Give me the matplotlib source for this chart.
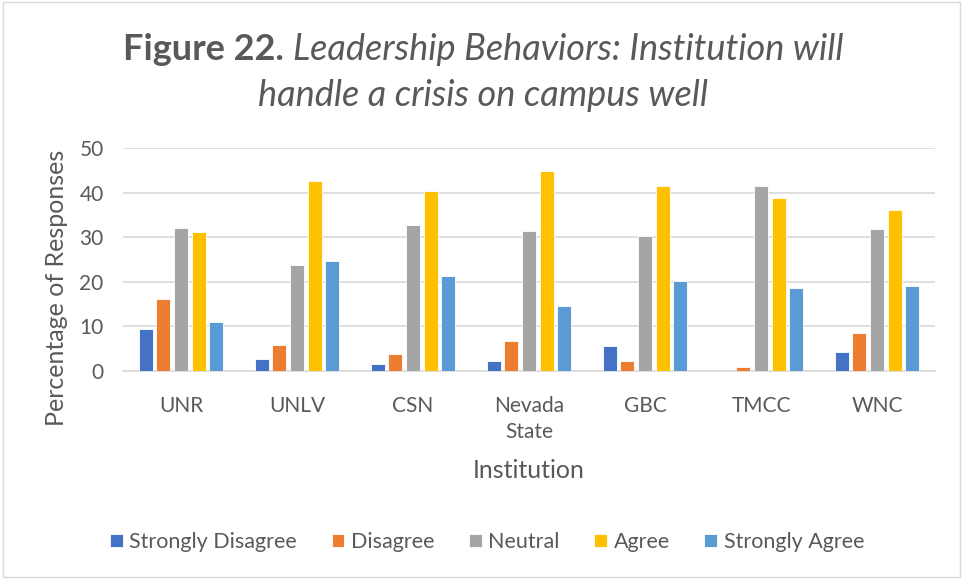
import matplotlib
matplotlib.use('Agg')
import matplotlib.pyplot as plt
import numpy as np
from matplotlib.patches import Rectangle

institutions = ['UNR', 'UNLV', 'CSN', 'Nevada\nState', 'GBC', 'TMCC', 'WNC']
series = ['Strongly Disagree', 'Disagree', 'Neutral', 'Agree', 'Strongly Agree']
strongly_disagree = [9.3, 2.6, 1.4, 2.2, 5.5, 0.0, 4.2]
disagree = [16.2, 5.8, 3.7, 6.6, 2.2, 0.8, 8.4]
neutral = [32.0, 23.8, 32.8, 31.5, 30.2, 41.5, 31.8]
agree = [31.2, 42.7, 40.4, 44.8, 41.5, 38.8, 36.1]
strongly_agree = [11.0, 24.7, 21.3, 14.5, 20.1, 18.6, 19.0]
colors = ['#4472C4', '#ED7D31', '#A5A5A5', '#FFC000', '#5B9BD5']

txt = '#595959'
plt.rcParams['font.family'] = ['Lato', 'DejaVu Sans']

W, H = 963, 579
fig = plt.figure(figsize=(W / 100, H / 100), dpi=100)
ax = fig.add_axes([123 / W, 1 - 370.7 / H, 812 / W, 222.4 / H])

x = np.arange(len(institutions))
bw = 0.12
step = 0.152
data = [strongly_disagree, disagree, neutral, agree, strongly_agree]
for i, (vals, c, name) in enumerate(zip(data, colors, series)):
  ax.bar(x + (i - 2) * step, vals, bw, color=c, label=name, zorder=3,
         edgecolor='white', linewidth=0.6)

ax.set_xlim(-0.5, 6.5)
ax.set_ylim(0, 50)
ax.set_yticks(range(0, 51, 10))
ax.set_xticks(x)
ax.set_xticklabels(institutions, fontsize=15, color=txt, linespacing=1.4, va='top')
ax.tick_params(axis='y', labelsize=15, labelcolor=txt, length=0, pad=14)
ax.tick_params(axis='x', length=0, pad=18)
ax.grid(axis='y', color='#D9D9D9', linewidth=1.2, zorder=0)
for s in ['top', 'right', 'left']:
  ax.spines[s].set_visible(False)
ax.spines['bottom'].set_color('#D9D9D9')
ax.spines['bottom'].set_linewidth(1.2)

ax.set_ylabel('Percentage of Responses', fontsize=18, color=txt)
ax.yaxis.set_label_coords((68 - 123) / 812, 0.372)
ax.set_xlabel('Institution', fontsize=18, color=txt, labelpad=12)

fig.legend(loc='center', bbox_to_anchor=(487 / W, 1 - 542 / H), ncol=5, frameon=False,
           fontsize=15.5, labelcolor=txt, handlelength=0.6, handleheight=0.6,
           handletextpad=0.3, columnspacing=1.6)

# title: bold "Figure 22." then italic text, centered
fig.canvas.draw()
r = fig.canvas.get_renderer()
tsize = 26
cx = 483 / W
y1 = 1 - 50 / H
t1 = fig.text(0, y1, 'Figure 22. ', fontsize=tsize, fontweight='bold', color=txt, va='center')
t2 = fig.text(0, y1, 'Leadership Behaviors: Institution will', fontsize=tsize, style='italic',
              color=txt, va='center')
w1 = t1.get_window_extent(r).width
w2 = t2.get_window_extent(r).width
left = cx * W - (w1 + w2) / 2
t1.set_x(left / W)
t2.set_x((left + w1) / W)
fig.text(cx, 1 - 95 / H, 'handle a crisis on campus well', fontsize=tsize, style='italic',
         color=txt, va='center', ha='center')

fig.patches.append(Rectangle((0.003, 0.003), 0.994, 0.994, transform=fig.transFigure,
                             fill=False, edgecolor='#D9D9D9', linewidth=1))

fig.savefig('out.png', dpi=100)
